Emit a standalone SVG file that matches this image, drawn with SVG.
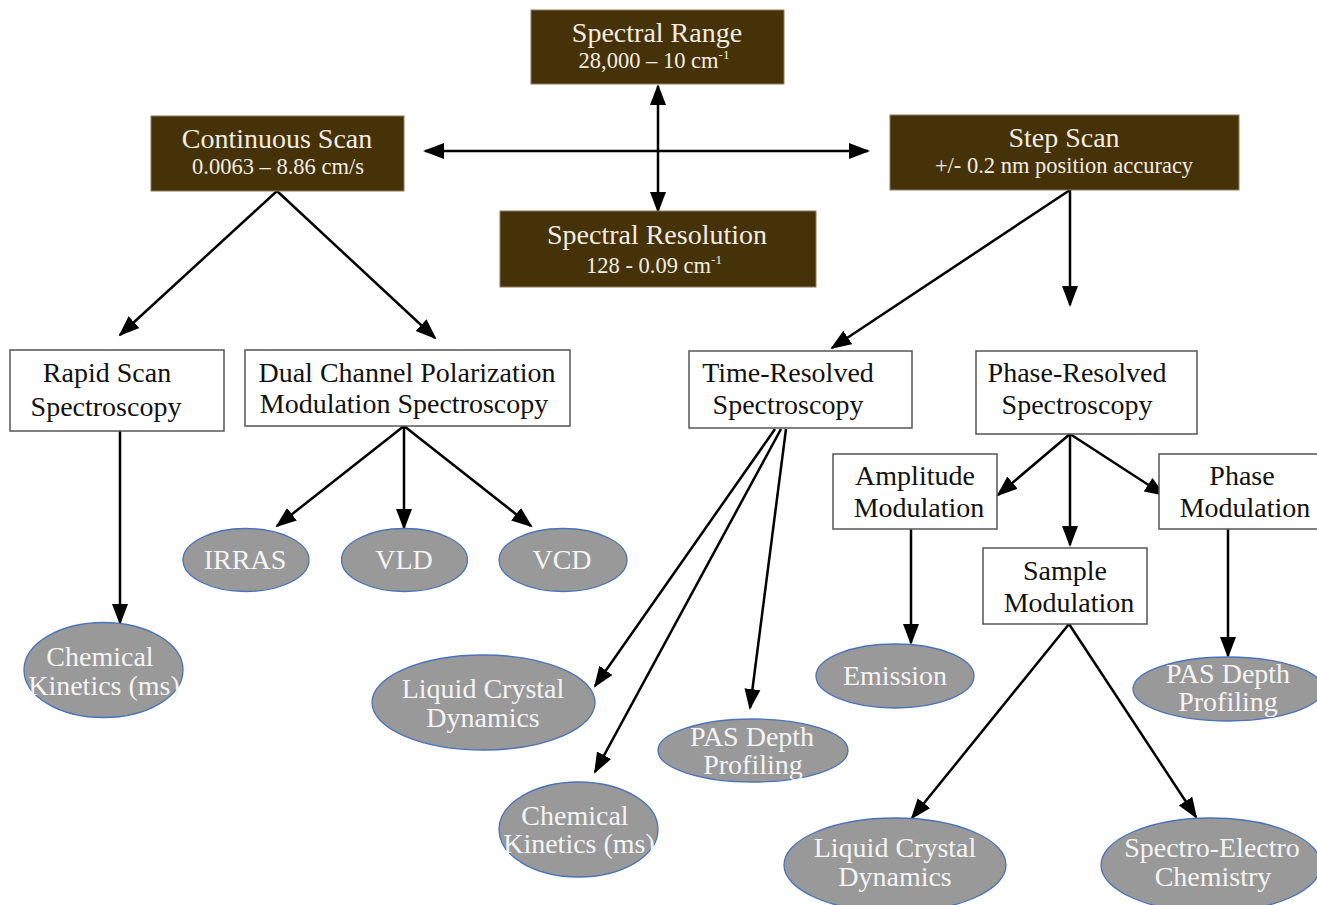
<svg xmlns="http://www.w3.org/2000/svg" width="1317" height="905" viewBox="0 0 1317 905">
<style>
.dark{fill:#463208;stroke:#8c7b5c;stroke-width:1}
.box{fill:#ffffff;stroke:#555555;stroke-width:1.5}
.ell{fill:#999999;stroke:#4a72b8;stroke-width:1.3}
.t1{font-family:"Liberation Serif",serif;font-size:28px;fill:#f2ede2;text-anchor:middle}
.t2{font-family:"Liberation Serif",serif;font-size:22.5px;fill:#f2ede2;text-anchor:middle}
.tb{font-family:"Liberation Serif",serif;font-size:28px;fill:#111111;text-anchor:middle}
.te{font-family:"Liberation Serif",serif;font-size:28px;fill:#f4f4f4;text-anchor:middle}
.c{stroke:#000;stroke-width:2.5;fill:none;marker-end:url(#ah)}
.d{stroke:#000;stroke-width:2.5;fill:none;marker-end:url(#ah);marker-start:url(#ah)}
</style>
<defs>
<marker id="ah" markerUnits="userSpaceOnUse" markerWidth="22" markerHeight="18" refX="19" refY="8" orient="auto-start-reverse" viewBox="0 0 22 16">
<path d="M0,0 L21,8 L0,16 z" fill="#000"/>
</marker>
</defs>
<g id="connectors">
<line class="d" x1="658" y1="86" x2="658" y2="211"/>
<line class="d" x1="425" y1="151" x2="868" y2="151"/>
<line class="c" x1="277" y1="191" x2="120" y2="335"/>
<line class="c" x1="277" y1="191" x2="435" y2="338"/>
<line class="c" x1="1070" y1="190" x2="832" y2="348"/>
<line class="c" x1="1070" y1="190" x2="1070" y2="305"/>
<line class="c" x1="120" y1="431" x2="120" y2="623"/>
<line class="c" x1="404" y1="426" x2="277" y2="526"/>
<line class="c" x1="404" y1="426" x2="404" y2="528"/>
<line class="c" x1="404" y1="426" x2="531" y2="526"/>
<line class="c" x1="775" y1="429" x2="595" y2="686"/>
<line class="c" x1="781" y1="429" x2="595" y2="772"/>
<line class="c" x1="786" y1="429" x2="750" y2="708"/>
<line class="c" x1="1070" y1="434" x2="998" y2="495"/>
<line class="c" x1="1070" y1="434" x2="1070" y2="545"/>
<line class="c" x1="1070" y1="434" x2="1164" y2="495"/>
<line class="c" x1="911" y1="529" x2="911" y2="643"/>
<line class="c" x1="1228" y1="529" x2="1228" y2="656"/>
<line class="c" x1="1069" y1="624" x2="912" y2="818"/>
<line class="c" x1="1069" y1="624" x2="1196" y2="817"/>
</g>
<g id="spectral-range">
<rect class="dark" x="531" y="10" width="253" height="74"/>
<text class="t1" x="657" y="42">Spectral Range</text>
<text class="t2" x="654" y="68">28,000 – 10 cm<tspan font-size="13" dy="-9">-1</tspan></text>
</g>
<g id="continuous-scan">
<rect class="dark" x="151" y="116" width="253" height="75"/>
<text class="t1" x="277" y="148">Continuous Scan</text>
<text class="t2" x="278" y="174">0.0063 – 8.86 cm/s</text>
</g>
<g id="step-scan">
<rect class="dark" x="890" y="115" width="349" height="75"/>
<text class="t1" x="1064" y="147">Step Scan</text>
<text class="t2" x="1064" y="173">+/- 0.2 nm position accuracy</text>
</g>
<g id="spectral-resolution">
<rect class="dark" x="500" y="211" width="316" height="76"/>
<text class="t1" x="657" y="244">Spectral Resolution</text>
<text class="t2" x="654" y="273">128 - 0.09 cm<tspan font-size="13" dy="-9">-1</tspan></text>
</g>
<g id="rapid-scan">
<rect class="box" x="10" y="350" width="214" height="81"/>
<text class="tb" x="107" y="382">Rapid Scan</text>
<text class="tb" x="106" y="416">Spectroscopy</text>
</g>
<g id="dual-channel">
<rect class="box" x="245" y="350" width="325" height="76"/>
<text class="tb" x="407" y="382">Dual Channel Polarization</text>
<text class="tb" x="404" y="413">Modulation Spectroscopy</text>
</g>
<g id="time-resolved">
<rect class="box" x="689" y="351" width="223" height="77"/>
<text class="tb" x="788" y="382">Time-Resolved</text>
<text class="tb" x="788" y="414">Spectroscopy</text>
</g>
<g id="phase-resolved">
<rect class="box" x="976" y="351" width="221" height="83"/>
<text class="tb" x="1077" y="382">Phase-Resolved</text>
<text class="tb" x="1077" y="414">Spectroscopy</text>
</g>
<g id="amplitude-modulation">
<rect class="box" x="833" y="454" width="164" height="75"/>
<text class="tb" x="915" y="485">Amplitude</text>
<text class="tb" x="919" y="517">Modulation</text>
</g>
<g id="phase-modulation">
<rect class="box" x="1159" y="454" width="170" height="75"/>
<text class="tb" x="1242" y="485">Phase</text>
<text class="tb" x="1245" y="517">Modulation</text>
</g>
<g id="sample-modulation">
<rect class="box" x="983" y="548" width="164" height="76"/>
<text class="tb" x="1065" y="580">Sample</text>
<text class="tb" x="1069" y="612">Modulation</text>
</g>
<g id="irras">
<ellipse class="ell" cx="246" cy="560" rx="63" ry="31.5"/>
<text class="te" x="245" y="569">IRRAS</text>
</g>
<g id="vld">
<ellipse class="ell" cx="404.5" cy="560" rx="63" ry="31.5"/>
<text class="te" x="404" y="569">VLD</text>
</g>
<g id="vcd">
<ellipse class="ell" cx="563" cy="560" rx="64" ry="31.5"/>
<text class="te" x="562" y="569">VCD</text>
</g>
<g id="chem-kinetics-1">
<ellipse class="ell" cx="103.5" cy="670" rx="79.5" ry="47.5"/>
<text class="te" x="100" y="666">Chemical</text>
<text class="te" x="104" y="695">Kinetics (ms)</text>
</g>
<g id="lcd-1">
<ellipse class="ell" cx="483.5" cy="702.5" rx="111.5" ry="47.5"/>
<text class="te" x="483" y="698">Liquid Crystal</text>
<text class="te" x="483" y="727">Dynamics</text>
</g>
<g id="chem-kinetics-2">
<ellipse class="ell" cx="578.5" cy="829.5" rx="79.5" ry="47.5"/>
<text class="te" x="575" y="825">Chemical</text>
<text class="te" x="579" y="853">Kinetics (ms)</text>
</g>
<g id="pas-1">
<ellipse class="ell" cx="753" cy="750.5" rx="95" ry="31.5"/>
<text class="te" x="752" y="746">PAS Depth</text>
<text class="te" x="753" y="774">Profiling</text>
</g>
<g id="emission">
<ellipse class="ell" cx="895" cy="676" rx="79" ry="32"/>
<text class="te" x="895" y="685">Emission</text>
</g>
<g id="pas-2">
<ellipse class="ell" cx="1228" cy="689" rx="95" ry="32"/>
<text class="te" x="1228" y="683">PAS Depth</text>
<text class="te" x="1228" y="711">Profiling</text>
</g>
<g id="lcd-2">
<ellipse class="ell" cx="895" cy="865" rx="111" ry="47"/>
<text class="te" x="895" y="857">Liquid Crystal</text>
<text class="te" x="895" y="886">Dynamics</text>
</g>
<g id="spectro-electro">
<ellipse class="ell" cx="1211" cy="865" rx="110" ry="47"/>
<text class="te" x="1212" y="857">Spectro-Electro</text>
<text class="te" x="1213" y="886">Chemistry</text>
</g>
</svg>
